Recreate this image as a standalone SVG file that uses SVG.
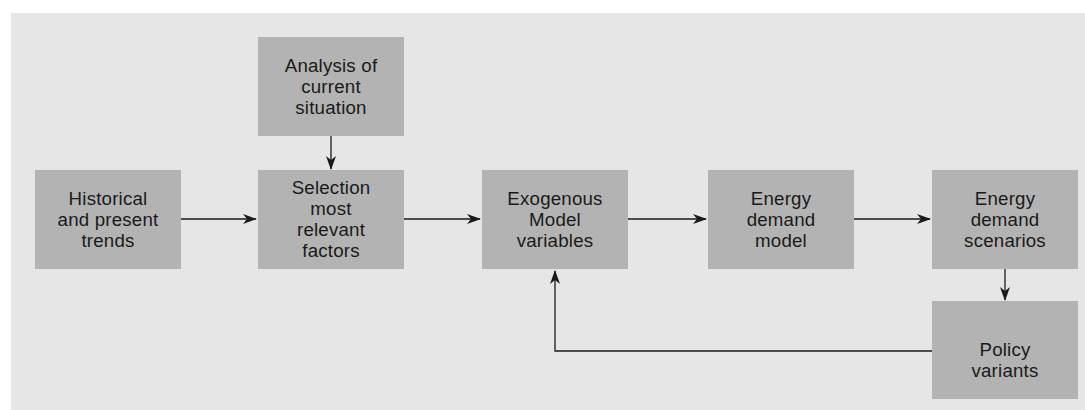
<svg xmlns="http://www.w3.org/2000/svg" width="1085" height="410" viewBox="0 0 1085 410">
<style>
.node rect{fill:#b3b3b3}
.node text{font-family:"Liberation Sans",Arial,sans-serif;font-size:18.7px;letter-spacing:0.2px;fill:#1a1a1a;text-anchor:middle}
.conn{stroke:#1a1a1a;stroke-width:1.3;fill:none}
</style>
<defs>
<marker id="ah" viewBox="0 0 14 10" refX="13" refY="5" markerWidth="14" markerHeight="10" markerUnits="userSpaceOnUse" orient="auto">
<path d="M0,0 L14,5 L0,10 L4,5 Z" fill="#1a1a1a"/>
</marker>
</defs>
<rect x="11" y="13" width="1074" height="397" fill="#e6e6e6"/>
<g id="n-historical" class="node"><rect x="35" y="170" width="146" height="99"/>
<text x="108" y="205">Historical</text><text x="108" y="226">and present</text><text x="108" y="247">trends</text></g>
<g id="n-analysis" class="node"><rect x="258" y="37" width="146" height="99"/>
<text x="331" y="72">Analysis of</text><text x="331" y="93">current</text><text x="331" y="114">situation</text></g>
<g id="n-selection" class="node"><rect x="258" y="170" width="146" height="99"/>
<text x="331" y="194">Selection</text><text x="331" y="215">most</text><text x="331" y="236">relevant</text><text x="331" y="257">factors</text></g>
<g id="n-exogenous" class="node"><rect x="482" y="170" width="146" height="99"/>
<text x="555" y="205">Exogenous</text><text x="555" y="226">Model</text><text x="555" y="247">variables</text></g>
<g id="n-edm" class="node"><rect x="708" y="170" width="146" height="99"/>
<text x="781" y="205">Energy</text><text x="781" y="226">demand</text><text x="781" y="247">model</text></g>
<g id="n-eds" class="node"><rect x="932" y="170" width="146" height="99"/>
<text x="1005" y="205">Energy</text><text x="1005" y="226">demand</text><text x="1005" y="247">scenarios</text></g>
<g id="n-policy" class="node"><rect x="932" y="301" width="146" height="98"/>
<text x="1005" y="356">Policy</text><text x="1005" y="377">variants</text></g>
<g id="connectors">
<path class="conn" d="M181,219 H256" marker-end="url(#ah)"/>
<path class="conn" d="M331,136 V169" marker-end="url(#ah)"/>
<path class="conn" d="M404,219 H480" marker-end="url(#ah)"/>
<path class="conn" d="M628,219 H706" marker-end="url(#ah)"/>
<path class="conn" d="M854,219 H930" marker-end="url(#ah)"/>
<path class="conn" d="M1005,269 V300" marker-end="url(#ah)"/>
<path class="conn" d="M932,351 H555 V271" marker-end="url(#ah)"/>
</g>
</svg>
